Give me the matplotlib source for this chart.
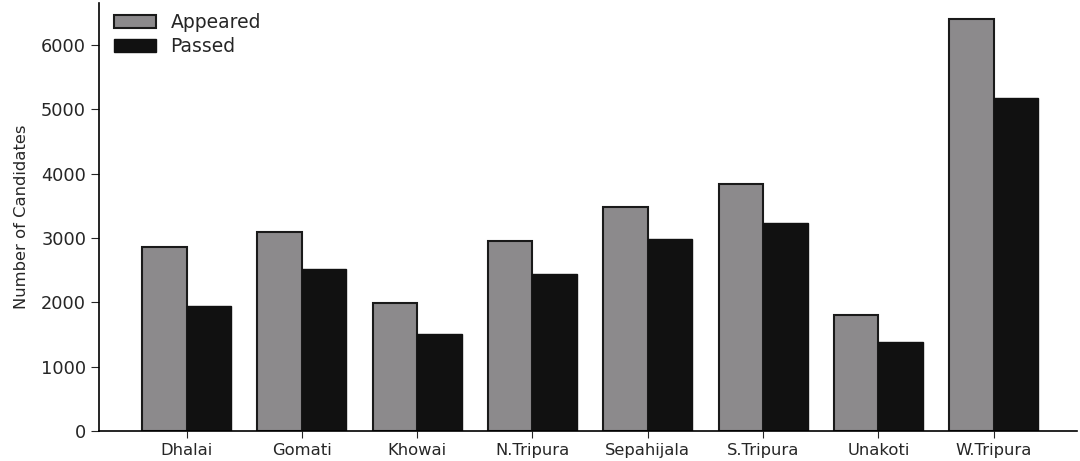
import matplotlib.pyplot as plt
import numpy as np

districts = ['Dhalai', 'Gomati', 'Khowai', 'N.Tripura', 'Sepahijala',
             'S.Tripura', 'Unakoti', 'W.Tripura']
appeared = [2860, 3100, 1990, 2950, 3490, 3840, 1800, 6400]
passed = [1950, 2520, 1510, 2440, 2980, 3240, 1390, 5170]


def main():
    plt.rcParams['text.color'] = '#262626'
    plt.rcParams['axes.labelcolor'] = '#262626'
    plt.rcParams['xtick.color'] = '#262626'
    plt.rcParams['ytick.color'] = '#262626'

    fig = plt.figure(figsize=(10.8, 4.61), dpi=100)
    ax = fig.add_axes([0.092, 0.065, 0.905, 0.928])

    x = np.arange(len(districts))
    width = 0.385
    ax.bar(x - width / 2, appeared, width, color='#8c8a8c',
           edgecolor='#1a1a1a', linewidth=1.5, label='Appeared')
    ax.bar(x + width / 2, passed, width, color='#111111',
           edgecolor='#111111', linewidth=1.0, label='Passed')

    ax.set_xticks(x)
    ax.set_xticklabels(districts, fontsize=11.8)
    ax.set_yticks([0, 1000, 2000, 3000, 4000, 5000, 6000])
    ax.tick_params(axis='y', labelsize=12.8, length=6)
    ax.tick_params(axis='x', length=5)
    ax.set_ylabel('Number of Candidates', fontsize=11.8, labelpad=9)
    ax.set_xlim(-0.756, 7.72)
    ax.set_ylim(0, 6650)

    for side in ['top', 'right']:
        ax.spines[side].set_visible(False)
    ax.spines['left'].set_linewidth(1.2)
    ax.spines['bottom'].set_linewidth(1.2)

    ax.legend(loc='upper left', frameon=False, fontsize=13.5,
              handlelength=2.2, handleheight=0.7, labelspacing=0.25,
              borderaxespad=0.5, bbox_to_anchor=(-0.002, 1.016))

    fig.savefig('out.png')


if __name__ == '__main__':
    main()
